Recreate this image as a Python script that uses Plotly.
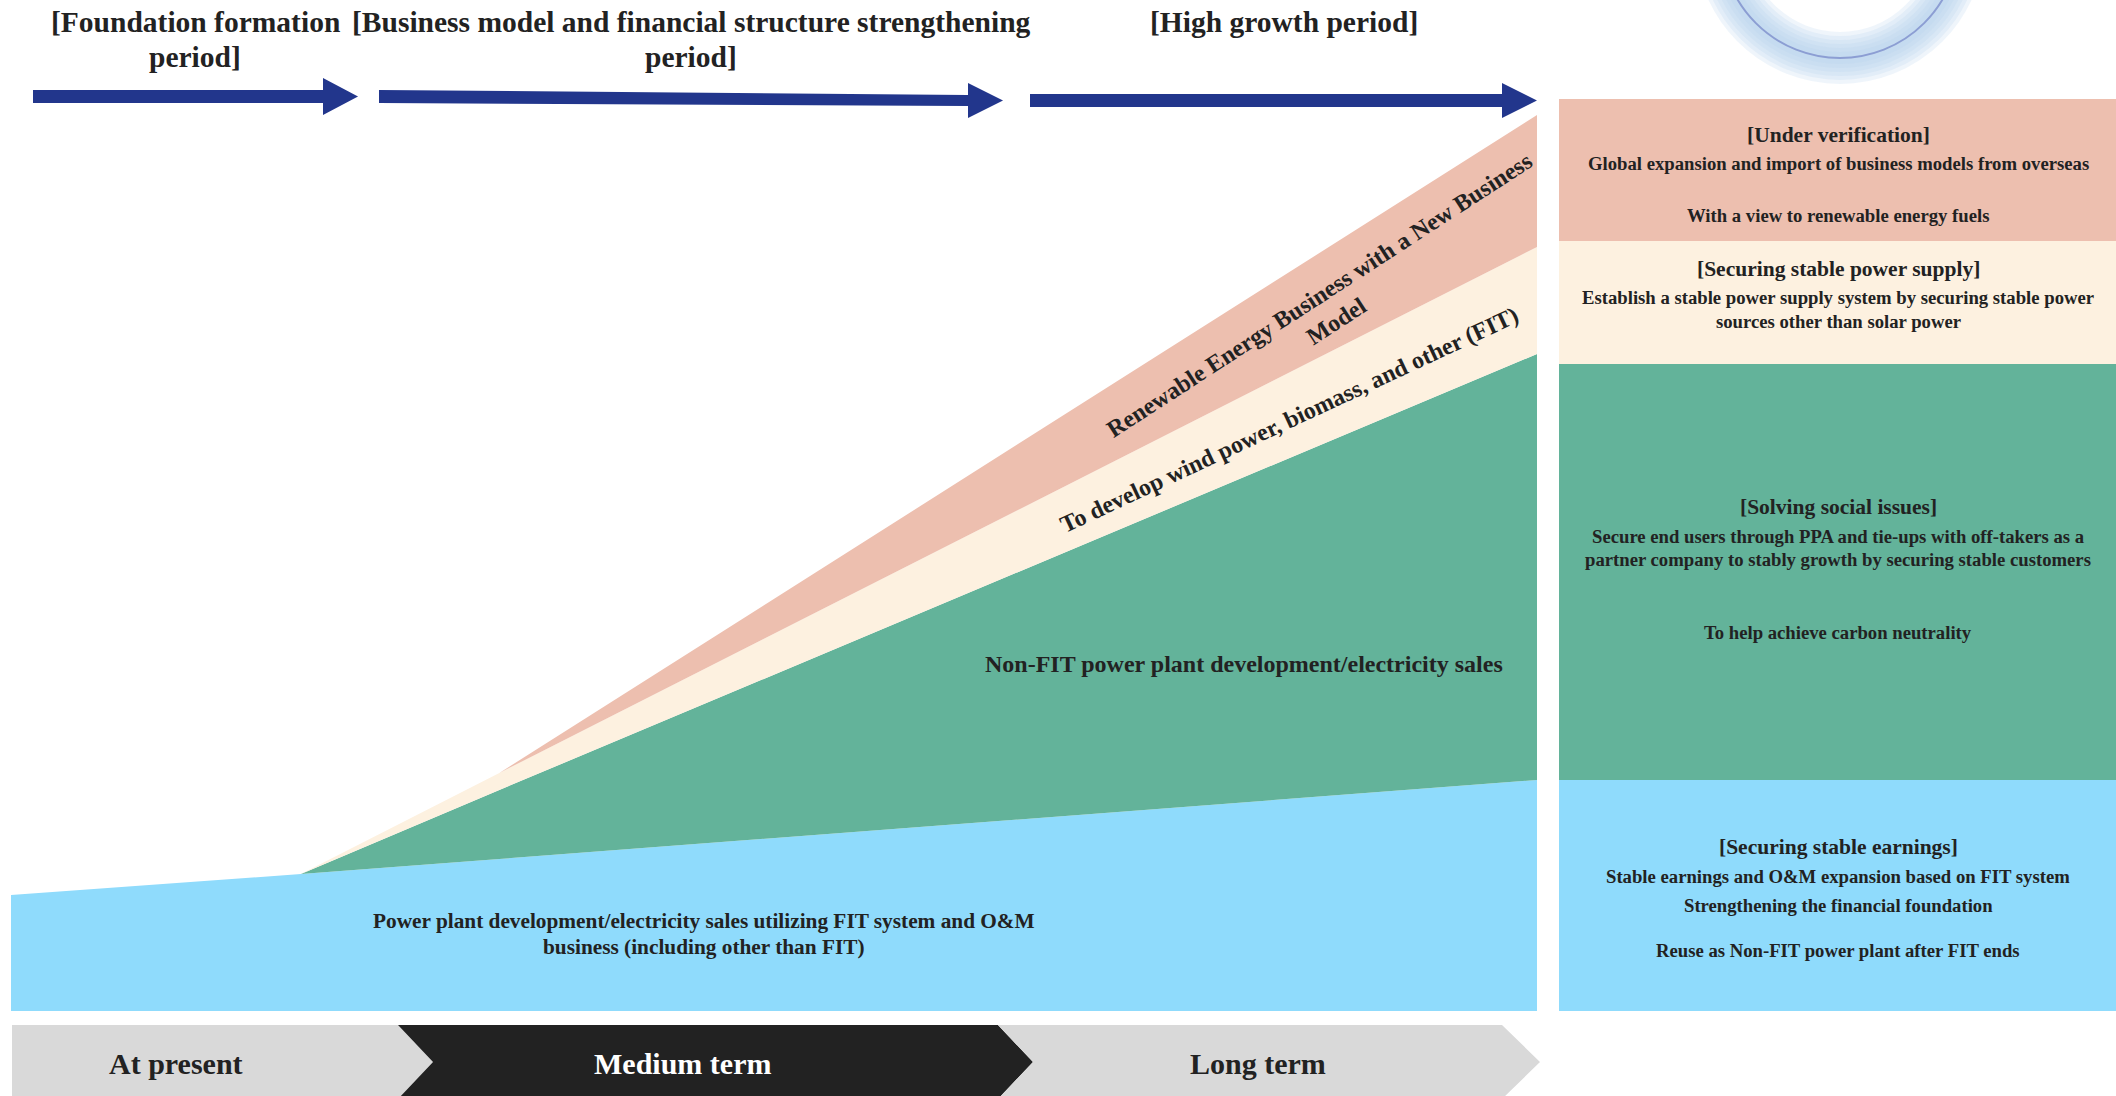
import plotly.graph_objects as go

W, H = 2116, 1096

# ---------------- data ----------------
stage_x = [0, 19, 32, 100]          # position along the time horizon (%)
fit_om = [116, 137, 152, 231]       # FIT system / O&M business
non_fit = [0, 0, 69, 426]           # Non-FIT power plant development
wind_biomass = [0, 0, 17, 107]      # wind power, biomass, other (FIT)
new_model = [0, 0, 0, 132]          # new business model

panel_segments = ["Securing stable earnings", "Solving social issues",
                  "Securing stable power supply", "Under verification"]
panel_values = [231, 416, 123, 142]

period_labels = ["[Foundation formation<br>period]",
                 "[Business model and financial structure strengthening<br>period]",
                 "[High growth period]"]
phase_labels = ["At present", "Medium term", "Long term"]

# ---------------- styles ----------------
BLUE = "#8FDBFC"
GREEN = "#63B39A"
CREAM = "#FDF1E0"
PINK = "#EDBFAF"
NAVY = "#22368C"
TXT = "#222222"
FONT = "Liberation Serif, Times New Roman, serif"


def px(x):
    return x / W


def py(y):
    return 1 - y / H


def path(points):
    return "M " + " L ".join(f"{px(x):.5f},{py(y):.5f}" for x, y in points) + " Z"


fig = go.Figure()

area_series = [(fit_om, BLUE), (non_fit, GREEN), (wind_biomass, CREAM), (new_model, PINK)]
for vals, col in area_series:
    fig.add_trace(go.Scatter(x=stage_x, y=vals, stackgroup="one", mode="none",
                             fillcolor=col, hoverinfo="skip", showlegend=False,
                             xaxis="x", yaxis="y"))

panel_colors = [BLUE, GREEN, CREAM, PINK]
for name, v, col in zip(panel_segments, panel_values, panel_colors):
    fig.add_trace(go.Bar(x=[0], y=[v], width=1, name=name, marker=dict(color=col, line=dict(width=0)),
                         hoverinfo="skip", showlegend=False, xaxis="x2", yaxis="y"))

shapes = []
# soft glowing circle at top right
cx, cy, r = 1840, -61, 119
for w_ in [52, 44, 36, 28, 20, 12]:
    shapes.append(dict(type="circle", xref="paper", yref="paper",
                       x0=px(cx - r), x1=px(cx + r), y0=py(cy - r), y1=py(cy + r),
                       line=dict(color="rgba(184,210,236,0.22)", width=w_)))
shapes.append(dict(type="circle", xref="paper", yref="paper",
                   x0=px(cx - r), x1=px(cx + r), y0=py(cy - r), y1=py(cy + r),
                   line=dict(color="#8C9ED3", width=2)))

# period arrows
arrows = [
    [(33, 90), (323, 90), (323, 78), (358, 96.5), (323, 115), (323, 103), (33, 103)],
    [(379, 90), (968, 95), (968, 83), (1003, 100.5), (968, 118), (968, 106), (379, 103)],
    [(1030, 94), (1502, 94), (1502, 83), (1537, 100.5), (1502, 118), (1502, 107), (1030, 107)],
]
for pts in arrows:
    shapes.append(dict(type="path", xref="paper", yref="paper", path=path(pts),
                       fillcolor=NAVY, line=dict(width=0)))

# phase chevrons
chev = [
    ([(12, 1025), (398, 1025), (433, 1062), (398, 1099), (12, 1099)], "#D9D9D9"),
    ([(398, 1025), (998, 1025), (1033, 1062), (998, 1099), (398, 1099), (433, 1062)], "#222222"),
    ([(998, 1025), (1502, 1025), (1540, 1062), (1502, 1099), (998, 1099), (1033, 1062)], "#D9D9D9"),
]
for pts, col in chev:
    shapes.append(dict(type="path", xref="paper", yref="paper", path=path(pts),
                       fillcolor=col, line=dict(width=0)))

ann = []


def add_text(text, x, y, size, color=TXT, angle=0):
    ann.append(dict(text=text, x=px(x), y=py(y), xref="paper", yref="paper",
                    showarrow=False, xanchor="center", yanchor="middle",
                    textangle=angle, align="center",
                    font=dict(family=FONT, size=size, color=color, weight="bold")))


def add_lines(text, x, y0, spacing, size, color=TXT):
    for i, line in enumerate(text.split("<br>")):
        add_text(line, x, y0 + i * spacing, size, color)


# headers
add_lines(period_labels[0], 195, 22, 35, 29.5)
add_lines(period_labels[1], 691, 22, 35, 29.5)
add_lines(period_labels[2], 1284, 22, 35, 29.5)

# chevron labels
add_text(phase_labels[0], 176, 1063, 30)
add_text(phase_labels[1], 682, 1063, 30, color="#FFFFFF")
add_text(phase_labels[2], 1258, 1063, 30)

# area labels
add_lines("Power plant development/electricity sales utilizing FIT system and O&M<br>business (including other than FIT)",
          704, 921, 25.5, 21.3)
add_text("Non-FIT power plant development/electricity sales", 1244, 664, 24)
add_text("To develop wind power, biomass, and other (FIT)", 1289, 420, 24, angle=-25)
add_text("Renewable Energy Business with a New Business<br>Model", 1327, 308, 24, angle=-33)

# right panel
CX = 1838
HS, BS = 21.5, 18.7
add_text("[" + panel_segments[3] + "]", CX, 135, HS)
add_text("Global expansion and import of business models from overseas", CX, 164, BS)
add_text("With a view to renewable energy fuels", CX, 215, BS)
add_text("[" + panel_segments[2] + "]", CX, 269, HS)
add_lines("Establish a stable power supply system by securing stable power<br>sources other than solar power", CX, 298, 23, BS)
add_text("[" + panel_segments[1] + "]", CX, 507, HS)
add_lines("Secure end users through PPA and tie-ups with off-takers as a<br>partner company to stably growth by securing stable customers", CX, 536, 23, BS)
add_text("To help achieve carbon neutrality", CX, 632, BS)
add_text("[" + panel_segments[0] + "]", CX, 847, HS)
add_text("Stable earnings and O&M expansion based on FIT system", CX, 876, BS)
add_text("Strengthening the financial foundation", CX, 905, BS)
add_text("Reuse as Non-FIT power plant after FIT ends", CX, 950, BS)

fig.update_layout(
    width=W, height=H,
    margin=dict(l=0, r=0, t=0, b=0, pad=0),
    paper_bgcolor="white", plot_bgcolor="rgba(0,0,0,0)",
    barmode="stack", bargap=0,
    xaxis=dict(domain=[px(11), px(1537)], range=[0, 100], visible=False, fixedrange=True),
    xaxis2=dict(domain=[px(1559), 1], range=[-0.5, 0.5], visible=False, anchor="y", fixedrange=True),
    yaxis=dict(domain=[py(1011), 1], range=[0, 1011], visible=False, fixedrange=True),
    shapes=shapes, annotations=ann,
    font=dict(family=FONT, color=TXT),
)

fig.write_html("out.html", config={"displayModeBar": False})
